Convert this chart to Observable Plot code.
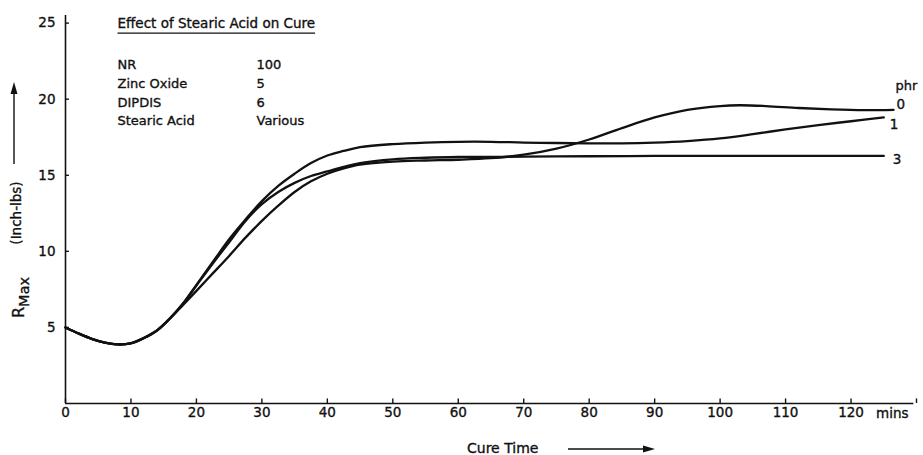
<!DOCTYPE html>
<html>
<head>
<meta charset="utf-8">
<script src="https://cdn.jsdelivr.net/npm/d3@7"></script>
<script src="https://cdn.jsdelivr.net/npm/@observablehq/plot@0.6"></script>
<style>
  html, body { margin: 0; padding: 0; background: #fff; }
  #chart svg { display: block; }
  #chart svg text { stroke: #111; stroke-width: 0.35px; }
</style>
</head>
<body>
<div id="chart"></div>
<script>
// Rheometer cure curves: maximum torque vs. cure time for three stearic acid levels (phr)

const xTickValues = [0, 10, 20, 30, 40, 50, 60, 70, 80, 90, 100, 110, 120];
const xTickMarks = [0, 10, 20, 30, 40, 50, 60, 70, 80, 90, 100, 110, 120, 130];
const yTickValues = [5, 10, 15, 20, 25];

// 0 phr stearic acid
const time0 = [0, 2, 4, 6, 8, 10, 12, 14, 16, 18, 20, 22.5, 25, 27.5, 30, 32.5, 35, 37.5, 40, 42.5, 45, 50, 55, 60, 65, 70, 75, 80, 85, 90, 95, 100, 103, 107, 112, 117, 122, 126.5];
const rmax0 = [5.0, 4.6, 4.25, 4.0, 3.88, 3.95, 4.3, 4.8, 5.6, 6.5, 7.4, 8.55, 9.7, 10.9, 12.0, 13.0, 13.9, 14.6, 15.1, 15.45, 15.7, 15.9, 15.97, 16.02, 16.12, 16.35, 16.75, 17.35, 18.1, 18.8, 19.3, 19.55, 19.6, 19.55, 19.42, 19.33, 19.28, 19.3];

// 1 phr stearic acid
const time1 = [0, 2, 4, 6, 8, 10, 12, 14, 16, 18, 20, 22.5, 25, 27.5, 30, 32.5, 35, 37.5, 40, 42.5, 45, 50, 55, 60, 65, 70, 75, 80, 85, 90, 95, 100, 105, 110, 115, 120, 125];
const rmax1 = [5.0, 4.6, 4.25, 4.0, 3.88, 3.97, 4.32, 4.82, 5.62, 6.6, 7.8, 9.3, 10.8, 12.1, 13.3, 14.3, 15.1, 15.8, 16.3, 16.6, 16.85, 17.05, 17.15, 17.2, 17.2, 17.15, 17.12, 17.1, 17.1, 17.15, 17.25, 17.42, 17.7, 18.02, 18.3, 18.55, 18.8];

// 3 phr stearic acid
const time3 = [0, 2, 4, 6, 8, 10, 12, 14, 16, 18, 20, 22.5, 25, 27.5, 30, 32.5, 35, 37.5, 40, 42.5, 45, 50, 55, 60, 70, 80, 90, 100, 110, 120, 125];
const rmax3 = [5.0, 4.6, 4.25, 4.0, 3.88, 3.96, 4.31, 4.81, 5.61, 6.58, 7.75, 9.2, 10.6, 12.0, 13.1, 13.9, 14.5, 14.95, 15.25, 15.55, 15.8, 16.05, 16.15, 16.2, 16.22, 16.25, 16.27, 16.27, 16.27, 16.27, 16.27];

const phrLevels = ["0", "1", "3"];
const recipeNames = ["NR", "Zinc Oxide", "DIPDIS", "Stearic Acid"];
const recipeAmounts = ["100", "5", "6", "Various"];

const ink = "#111";
const font = "DejaVu Sans, sans-serif";

const seriesTimes = [time0, time1, time3];
const seriesValues = [rmax0, rmax1, rmax3];
const curves = phrLevels.map((phr, k) =>
  seriesTimes[k].map((t, i) => ({phr, t, v: seriesValues[k][i]}))
);
const ends = curves.map(c => c[c.length - 1]);

// offsets of each curve's end label from the end of its line
const endLabelOffset = {"0": [3, -5], "1": [6, 7], "3": [9, 4]};

const chart = Plot.plot({
  width: 923,
  height: 455,
  marginLeft: 65,
  marginRight: 7,
  marginTop: 15,
  marginBottom: 52,
  style: {fontFamily: font, fontSize: "13px", color: ink, background: "#fff", overflow: "visible"},
  x: {domain: [0, 130], axis: null},
  y: {domain: [0, 25.5], axis: null},
  marks: [
    // axis lines
    Plot.ruleX([0], {y1: 0, y2: 25.5, stroke: ink, strokeWidth: 1.6}),
    Plot.ruleY([0], {x1: 0, x2: 129.6, stroke: ink, strokeWidth: 1.6}),
    // inward tick marks
    Plot.ruleY(yTickValues, {x1: 0, x2: 0.6, stroke: ink, strokeWidth: 1.4}),
    Plot.ruleX(xTickMarks, {y1: 0, y2: 0.3, stroke: ink, strokeWidth: 1.4}),
    // tick labels
    Plot.axisY({ticks: yTickValues, tickSize: 0, tickPadding: 10, fontSize: 13.5, fill: ink, label: null}),
    Plot.axisX({ticks: xTickValues, tickSize: 0, tickPadding: 4, fontSize: 13.5, fill: ink, label: null}),
    Plot.text(["mins"], {x: 120, y: 0, text: d => d, dx: 25, dy: 10, textAnchor: "start", fontSize: 13.5, fill: ink}),
    // cure curves
    ...curves.map(c =>
      Plot.line(c, {x: "t", y: "v", stroke: ink, strokeWidth: 2.3, curve: "catmull-rom"})
    ),
    // curve labels
    ...ends.map(e =>
      Plot.text([e], {x: "t", y: "v", text: "phr", textAnchor: "start",
        dx: endLabelOffset[e.phr][0], dy: endLabelOffset[e.phr][1], fontSize: 13.5, fill: ink})
    ),
    Plot.text([ends[0]], {x: "t", y: "v", text: () => "phr", textAnchor: "start", dx: 2, dy: -24, fontSize: 13, fill: ink}),
    // recipe box
    Plot.text(["Effect of Stearic Acid on Cure"], {frameAnchor: "top-left", text: d => d, dx: 52, dy: 3,
      lineAnchor: "top", fontSize: 13.5, fill: ink, className: "chart-title"}),
    Plot.text([recipeNames.join("\n")], {frameAnchor: "top-left", text: d => d, dx: 52, dy: 40,
      lineAnchor: "top", lineHeight: 1.45, fontSize: 13, fill: ink}),
    Plot.text([recipeAmounts.join("\n")], {frameAnchor: "top-left", text: d => d, dx: 191, dy: 40,
      lineAnchor: "top", lineHeight: 1.45, fontSize: 13, fill: ink})
  ]
});

document.getElementById("chart").appendChild(chart);

const svg = d3.select(chart);

// underline under the title
const titleNode = svg.select("g.chart-title text").node();
if (titleNode) {
  const s = chart.getBoundingClientRect();
  const b = titleNode.getBoundingClientRect();
  const yLine = b.bottom - s.top + 2;
  svg.append("line")
    .attr("x1", b.left - s.left).attr("x2", b.right - s.left)
    .attr("y1", yLine).attr("y2", yLine)
    .attr("stroke", ink).attr("stroke-width", 1.2);
}

// x axis title with arrow
svg.append("text")
  .attr("x", 467).attr("y", 453)
  .attr("text-anchor", "start")
  .attr("font-family", font).attr("font-size", 14).attr("fill", ink)
  .text("Cure Time");
svg.append("line")
  .attr("x1", 568).attr("x2", 645).attr("y1", 449).attr("y2", 449)
  .attr("stroke", ink).attr("stroke-width", 1.3);
svg.append("path")
  .attr("d", "M655,449 L643,445.5 L643,452.5 Z").attr("fill", ink);

// y axis title with arrow
const yTitle = svg.append("text")
  .attr("transform", "translate(24,318) rotate(-90)")
  .attr("text-anchor", "start")
  .attr("font-family", font).attr("font-size", 16).attr("fill", ink);
yTitle.append("tspan").text("R");
yTitle.append("tspan").attr("dy", 5).attr("font-size", 14.5).text("Max");
svg.append("text")
  .attr("transform", "translate(21,213) rotate(-90)")
  .attr("text-anchor", "middle")
  .attr("font-family", font).attr("font-size", 13.5).attr("fill", ink)
  .text("(Inch-lbs)");
svg.append("line")
  .attr("x1", 14).attr("x2", 14).attr("y1", 164).attr("y2", 92)
  .attr("stroke", ink).attr("stroke-width", 1.4);
svg.append("path")
  .attr("d", "M14,82 L10.5,94 L17.5,94 Z").attr("fill", ink);
</script>
</body>
</html>
